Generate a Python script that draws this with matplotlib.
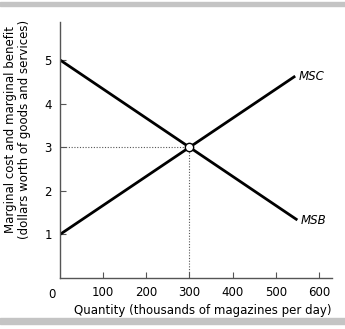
import matplotlib
matplotlib.use("Agg")
import matplotlib.pyplot as plt
from matplotlib.patches import Rectangle

msc_x = [0, 545]
msc_y = [1, 4.63]
msb_x = [0, 550]
msb_y = [5, 1.33]
eq_x, eq_y = 300, 3
x_ticks = [100, 200, 300, 400, 500, 600]
y_ticks = [1, 2, 3, 4, 5]

plt.rcParams['font.family'] = ['DejaVu Sans']
fig = plt.figure(figsize=(3.45, 3.29), dpi=100)
fig.patches.append(Rectangle((0.0, 0.982), 1, 0.012, transform=fig.transFigure, color='#c4c4c4', zorder=0))
fig.patches.append(Rectangle((0.0, 0.015), 1, 0.018, transform=fig.transFigure, color='#c4c4c4', zorder=0))

ax = fig.add_axes([0.174, 0.155, 0.788, 0.778])
ax.set_xlim(0, 630)
ax.set_ylim(0, 5.87)
for s in ['top', 'right']:
    ax.spines[s].set_visible(False)
for s in ['left', 'bottom']:
    ax.spines[s].set_color('#555555')
    ax.spines[s].set_linewidth(1.0)

ax.plot(msc_x, msc_y, color='black', lw=2.0, solid_capstyle='butt')
ax.plot(msb_x, msb_y, color='black', lw=2.0, solid_capstyle='butt')
ax.plot([0, eq_x], [eq_y, eq_y], color='#555555', lw=0.8, ls=(0, (1, 1.5)))
ax.plot([eq_x, eq_x], [0, eq_y], color='#555555', lw=0.8, ls=(0, (1, 1.5)))
ax.plot([eq_x], [eq_y], marker='o', ms=6, mfc='white', mec='black', mew=1.0, zorder=5)

ax.text(msc_x[-1] + 8, msc_y[-1], 'MSC', style='italic', fontsize=8.5, va='center', ha='left')
ax.text(msb_x[-1] + 8, msb_y[-1], 'MSB', style='italic', fontsize=8.5, va='center', ha='left')

ax.set_xticks(x_ticks)
ax.set_yticks(y_ticks)
ax.tick_params(direction='in', length=4, width=0.8, color='#555555', labelsize=8.5, pad=6)
ax.text(-10, -0.24, '0', fontsize=8.5, ha='right', va='top')

ax.set_xlabel('Quantity (thousands of magazines per day)', fontsize=8.5, labelpad=3, loc='right')
ax.set_ylabel('Marginal cost and marginal benefit\n(dollars worth of goods and services)', fontsize=8.5, linespacing=1.1)
ax.yaxis.set_label_coords(-0.105, 0.58)

fig.savefig('out.png', dpi=100)
